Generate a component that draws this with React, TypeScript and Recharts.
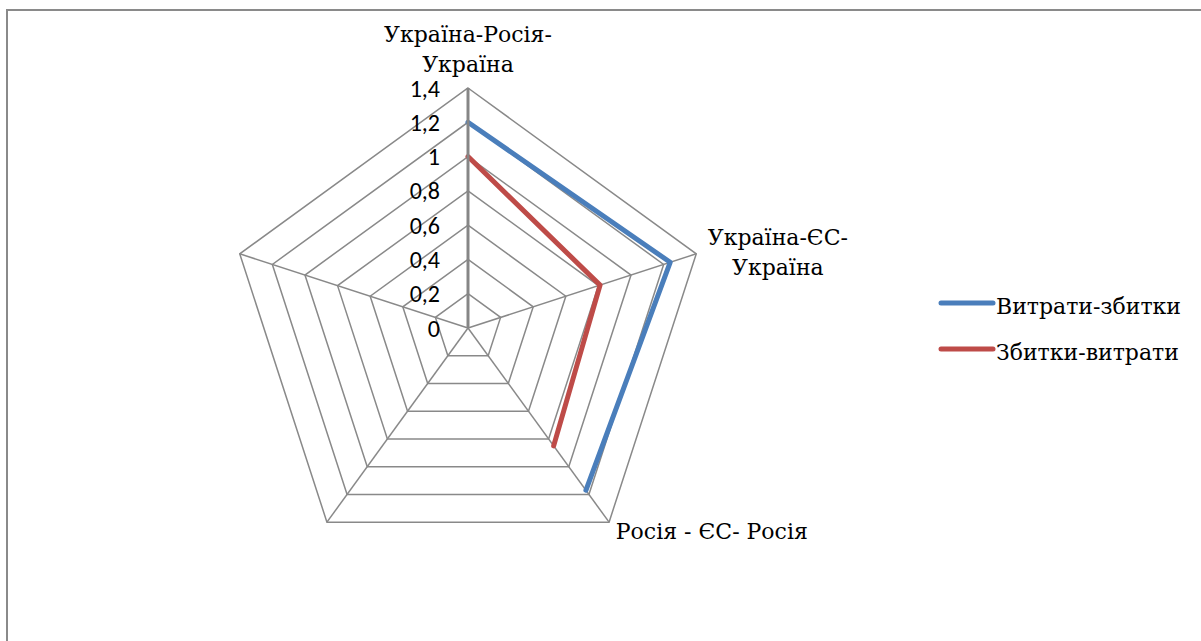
import React from "react";
import { RadarChart, Radar, PolarGrid, PolarAngleAxis, PolarRadiusAxis, Legend } from "recharts";

const CATEGORIES = ["Україна-Росія-Україна", "Україна-ЄС-Україна", "Росія - ЄС- Росія", " ", "  "];
const CATEGORY_LABEL_LINES: string[][] = [["Україна-Росія-", "Україна"], ["Україна-ЄС-", "Україна"], ["Росія - ЄС- Росія"], [], []];
const SERIES_NAMES = ["Витрати-збитки", "Збитки-витрати"];
const COSTS_LOSSES: (number | null)[] = [1.2, 1.24, 1.17, null, null];
const LOSSES_COSTS: (number | null)[] = [1.0, 0.81, 0.85, null, null];
const RADIUS_TICKS = [0, 0.2, 0.4, 0.6, 0.8, 1.0, 1.2, 1.4];
const RADIUS_TICK_LABELS = ["0", "0,2", "0,4", "0,6", "0,8", "1", "1,2", "1,4"];

const data = CATEGORIES.map((c, i) => ({ name: c, a: COSTS_LOSSES[i], b: LOSSES_COSTS[i] }));

const COLORS = ["#4a7ebb", "#be4b48"];
const SERIF = "'DejaVu Serif', serif";
const SANS = "Carlito, Lato, sans-serif";

const LABEL_OFFSETS = [
  { dx: 0, dy: -38, anchor: "middle" },
  { dx: 74, dy: -6, anchor: "middle" },
  { dx: 2, dy: 10, anchor: "start" },
  { dx: 0, dy: 0, anchor: "middle" },
  { dx: 0, dy: 0, anchor: "middle" },
];

const AngleTick = (props: any) => {
  const { x, y, index } = props;
  const lines = CATEGORY_LABEL_LINES[index] || [];
  const off = LABEL_OFFSETS[index];
  if (!lines.length) return null;
  return (
    <text x={x + off.dx} y={y + off.dy} textAnchor={off.anchor} style={{ fontFamily: SERIF, fontSize: 22 }} fill="#000">
      {lines.map((l, i) => (
        <tspan key={i} x={x + off.dx} dy={i === 0 ? 0 : 30}>
          {l}
        </tspan>
      ))}
    </text>
  );
};

const labelFor = (v: number) => {
  let best = 0;
  RADIUS_TICKS.forEach((t, i) => {
    if (Math.abs(t - v) < Math.abs(RADIUS_TICKS[best] - v)) best = i;
  });
  return RADIUS_TICK_LABELS[best];
};

const RadiusTick = (props: any) => {
  const { x, y, payload } = props;
  return (
    <text x={x - 28} y={y} textAnchor="end" dominantBaseline="central" style={{ fontFamily: SANS, fontSize: 24 }} fill="#000">
      {labelFor(Number(payload?.value))}
    </text>
  );
};

const OpenLine = (color: string) => (props: any) => {
  const pts = (props.points || []).filter(
    (p: any) => p.value != null && Number.isFinite(p.x) && Number.isFinite(p.y)
  );
  const d = pts.map((p: any, i: number) => `${i ? "L" : "M"}${p.x},${p.y}`).join("");
  return <path d={d} fill="none" stroke={color} strokeWidth={5} strokeLinejoin="round" strokeLinecap="round" />;
};

const LegendContent = (props: any) => {
  const payload = props.payload || [];
  return (
    <div>
      {payload.map((p: any, i: number) => (
        <div key={i} style={{ display: "flex", alignItems: "center", height: 46 }}>
          <svg width={58} height={10} style={{ display: "block", position: "relative", top: -3 }}>
            <line x1={3} y1={5} x2={55} y2={5} stroke={COLORS[i]} strokeWidth={5} strokeLinecap="round" />
          </svg>
          <span style={{ fontFamily: SERIF, fontSize: 22, color: "#000", whiteSpace: "nowrap" }}>{p.value}</span>
        </div>
      ))}
    </div>
  );
};

export default function App() {
  return (
    <div style={{ position: "absolute", left: 0, top: 0, width: 1201, height: 641, overflow: "hidden", background: "#fff" }}>
      <div
        style={{
          position: "absolute",
          left: 6,
          top: 9,
          width: 1400,
          height: 900,
          borderTop: "2px solid #8a8a8a",
          borderLeft: "2px solid #8a8a8a",
        }}
      />
      <div style={{ position: "absolute", left: 0, top: 0 }}>
        <RadarChart
          width={1201}
          height={641}
          cx={468}
          cy={328}
          outerRadius={240}
          data={data}
          margin={{ top: 0, right: 0, bottom: 0, left: 0 }}
        >
          <PolarGrid gridType="polygon" stroke="#898989" strokeWidth={1.5} />
          <PolarAngleAxis dataKey="name" tick={<AngleTick />} tickLine={false} axisLine={false} />
          <PolarRadiusAxis
            type="number"
            angle={90}
            domain={[0, 1.4]}
            ticks={RADIUS_TICKS as any}
            tickCount={8}
            allowDecimals
            tick={<RadiusTick />}
            tickLine={false}
            axisLine={{ stroke: "#868686", strokeWidth: 3 }}
          />
          <Radar
            name={SERIES_NAMES[0]}
            dataKey="a"
            stroke={COLORS[0]}
            fill="none"
            isAnimationActive={false}
            shape={OpenLine(COLORS[0])}
          />
          <Radar
            name={SERIES_NAMES[1]}
            dataKey="b"
            stroke={COLORS[1]}
            fill="none"
            isAnimationActive={false}
            shape={OpenLine(COLORS[1])}
          />
          <Legend
            layout="vertical"
            content={<LegendContent />}
            wrapperStyle={{ position: "absolute", left: 938, top: 283, width: 262, bottom: "auto", right: "auto" }}
          />
        </RadarChart>
      </div>
    </div>
  );
}
